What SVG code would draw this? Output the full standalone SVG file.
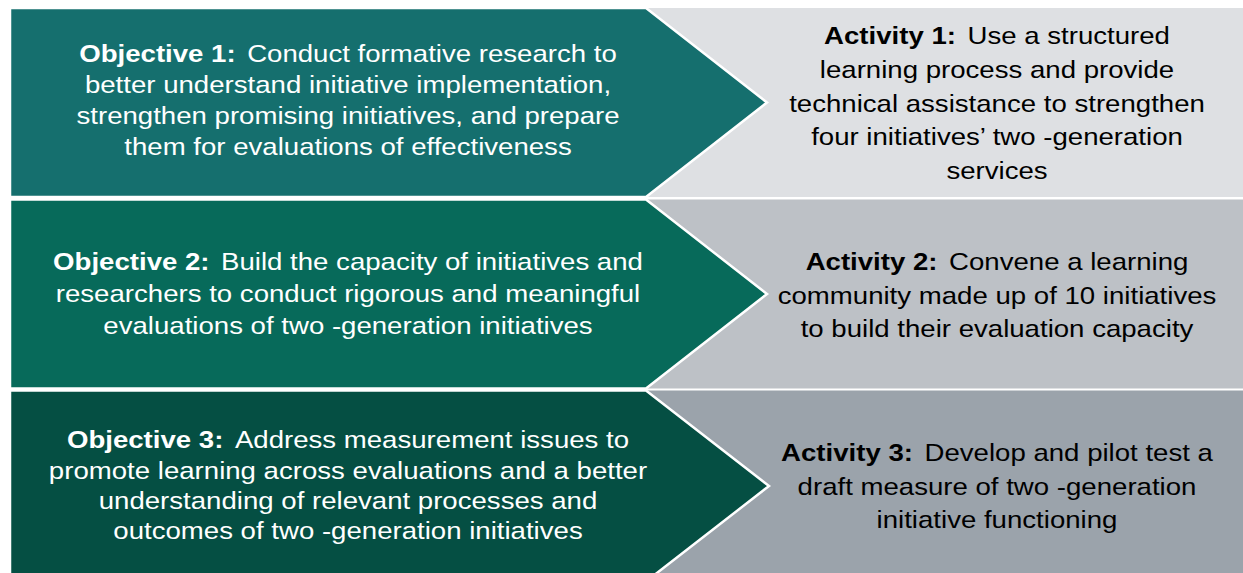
<svg xmlns="http://www.w3.org/2000/svg" width="1243" height="573" viewBox="0 0 1243 573">
<style>
.t{font-family:"Liberation Sans",Arial,sans-serif;font-size:24px;text-anchor:middle}
.w{fill:#FFFFFF}
.k{fill:#000000}
.b{font-weight:bold}
.chev{stroke:#FFFFFF;stroke-width:2.5;stroke-linejoin:miter}
</style>
<rect x="0" y="0" width="1243" height="573" fill="#FFFFFF"/>
<g id="row1">
  <rect id="activity1-bg" x="640" y="8" width="603" height="189" fill="#DEE0E3"/>
  <polygon id="objective1-bg" class="chev" points="10,8 646,8 767,102.5 646,197 10,197" fill="#156F6E"/>
</g>
<g id="row2">
  <rect id="activity2-bg" x="640" y="199.5" width="603" height="189" fill="#BDC1C6"/>
  <polygon id="objective2-bg" class="chev" points="10,199.5 646,199.5 767,294 646,388.5 10,388.5" fill="#076A5A"/>
</g>
<g id="row3">
  <rect id="activity3-bg" x="640" y="390.5" width="603" height="190" fill="#9BA3AB"/>
  <polygon id="objective3-bg" class="chev" points="10,390.5 646,390.5 769,486 646,581.5 10,581.5" fill="#054F43"/>
</g>
<g id="connectors"></g>
<g id="objective1" transform="translate(348 0) scale(1.15 1)">
  <text class="t w" x="0" y="62"><tspan class="b">Objective 1:</tspan><tspan dx="10">Conduct formative research to</tspan></text>
  <text class="t w" x="0" y="93">better understand initiative implementation,</text>
  <text class="t w" x="0" y="124">strengthen promising initiatives, and prepare</text>
  <text class="t w" x="0" y="155">them for evaluations of effectiveness</text>
</g>
<g id="activity1" transform="translate(997 0) scale(1.15 1)">
  <text class="t k" x="0" y="44"><tspan class="b">Activity 1:</tspan><tspan dx="10">Use a structured</tspan></text>
  <text class="t k" x="0" y="78">learning process and provide</text>
  <text class="t k" x="0" y="112">technical assistance to strengthen</text>
  <text class="t k" x="0" y="145">four initiatives’ two -generation</text>
  <text class="t k" x="0" y="179">services</text>
</g>
<g id="objective2" transform="translate(348 0) scale(1.15 1)">
  <text class="t w" x="0" y="270"><tspan class="b">Objective 2:</tspan><tspan dx="10">Build the capacity of initiatives and</tspan></text>
  <text class="t w" x="0" y="302">researchers to conduct rigorous and meaningful</text>
  <text class="t w" x="0" y="334">evaluations of two -generation initiatives</text>
</g>
<g id="activity2" transform="translate(997 0) scale(1.15 1)">
  <text class="t k" x="0" y="270"><tspan class="b">Activity 2:</tspan><tspan dx="10">Convene a learning</tspan></text>
  <text class="t k" x="0" y="304">community made up of 10 initiatives</text>
  <text class="t k" x="0" y="337">to build their evaluation capacity</text>
</g>
<g id="objective3" transform="translate(348 0) scale(1.15 1)">
  <text class="t w" x="0" y="448"><tspan class="b">Objective 3:</tspan><tspan dx="10">Address measurement issues to</tspan></text>
  <text class="t w" x="0" y="479">promote learning across evaluations and a better</text>
  <text class="t w" x="0" y="509">understanding of relevant processes and</text>
  <text class="t w" x="0" y="539">outcomes of two -generation initiatives</text>
</g>
<g id="activity3" transform="translate(997 0) scale(1.15 1)">
  <text class="t k" x="0" y="461"><tspan class="b">Activity 3:</tspan><tspan dx="10">Develop and pilot test a</tspan></text>
  <text class="t k" x="0" y="495">draft measure of two -generation</text>
  <text class="t k" x="0" y="528">initiative functioning</text>
</g>
</svg>
